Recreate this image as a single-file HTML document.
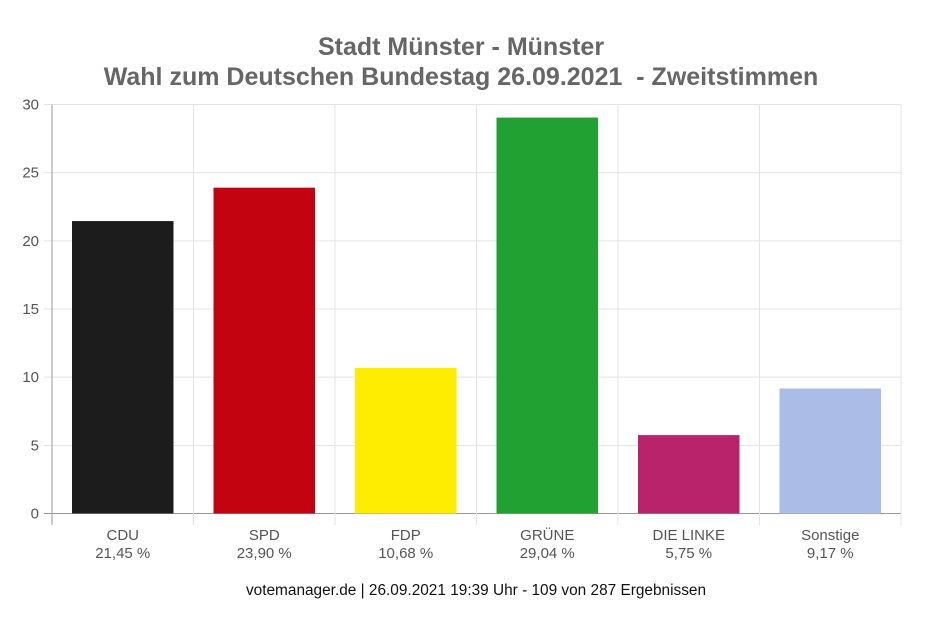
<!DOCTYPE html>
<html><head><meta charset="utf-8"><style>
body{margin:0;background:#fff;width:925px;height:621px;overflow:hidden}
svg{font-family:"Liberation Sans",Arial,sans-serif}
</style></head><body>
<svg id="c" width="925" height="621">
<text x="461" y="55" text-anchor="middle" font-size="25" font-weight="bold" fill="#666">Stadt Münster - Münster</text>
<text x="461" y="85" text-anchor="middle" font-size="25" font-weight="bold" fill="#666" style="white-space:pre">Wahl zum Deutschen Bundestag 26.09.2021  - Zweitstimmen</text>
<g id="grid"></g><g id="bars"></g><g id="labels"></g>
<text x="476" y="595" text-anchor="middle" font-size="15.4" fill="#111">votemanager.de | 26.09.2021 19:39 Uhr - 109 von 287 Ergebnissen</text>
</svg>
<script>
const categories=["CDU","SPD","FDP","GRÜNE","DIE LINKE","Sonstige"];
const values=[21.45,23.90,10.68,29.04,5.75,9.17];
const valueLabels=["21,45 %","23,90 %","10,68 %","29,04 %","5,75 %","9,17 %"];
const colors=["#1c1c1c","#c40311","#ffed00","#21a132","#b8236b","#abbde6"];
const yTicks=[0,5,10,15,20,25,30];
const NS="http://www.w3.org/2000/svg";
const x0=52,x1=901,y0=513.5,y1=104.5,yMax=30;
const bw=(x1-x0)/categories.length;
const y=v=>y0-(v/yMax)*(y0-y1);
const xs=i=>x0+i*bw;
function mk(t,a,p){const e=document.createElementNS(NS,t);for(const k in a)e.setAttribute(k,a[k]);p.appendChild(e);return e;}
const g=document.getElementById('grid'),b=document.getElementById('bars'),l=document.getElementById('labels');
yTicks.forEach(t=>{
 const ln=mk('line',{x1:44,x2:x1,y1:y(t),y2:y(t),stroke:t===0?'#999':'#e3e3e3','stroke-width':1},g);
 
 
 const tx=mk('text',{x:39,y:y(t)+5,'text-anchor':'end','font-size':15,fill:'#555'},g);
 tx.textContent=t;
 
 
});
for(let i=0;i<=categories.length;i++){
 const ln=mk('line',{x1:xs(i),x2:xs(i),y1:y1,y2:525,stroke:i===0?'#999':'#e3e3e3','stroke-width':1},g);
 
 
}
categories.forEach((c,i)=>{
 const r=mk('rect',{x:xs(i)+20,y:y(values[i]),width:bw-40,height:y0-y(values[i]),fill:colors[i]},b);
 
 
 const t1=mk('text',{x:xs(i)+bw/2,y:540,'text-anchor':'middle','font-size':15,fill:'#555'},l);
 t1.textContent=c;
 
 
 const t2=mk('text',{x:xs(i)+bw/2,y:558,'text-anchor':'middle','font-size':15,fill:'#555'},l);
 t2.textContent=valueLabels[i];
 
 
});
</script>
</body></html>
